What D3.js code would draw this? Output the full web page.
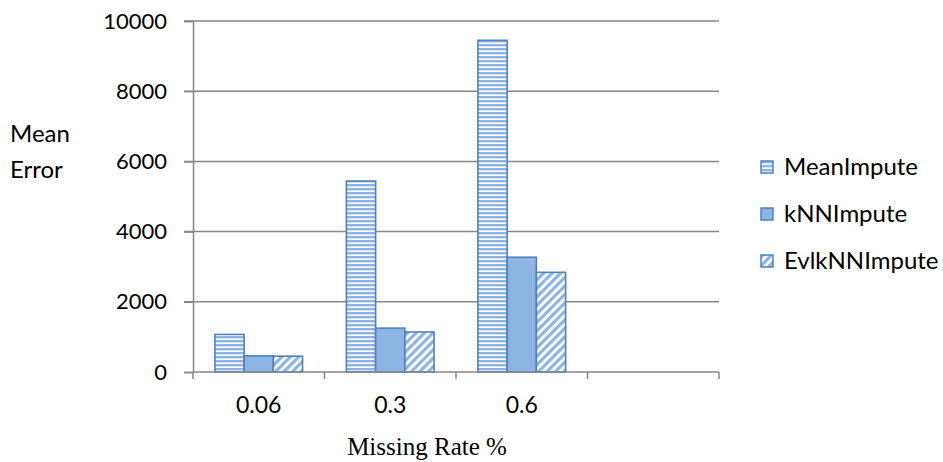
<!DOCTYPE html>
<html>
<head>
<meta charset="utf-8">
<script src="https://cdn.jsdelivr.net/npm/d3@7"></script>
<style>
  body { margin: 0; background: #fff; }
</style>
</head>
<body>
<div id="chart"></div>
<script>
var categories = ['0.06', '0.3', '0.6', ''];
var seriesNames = ['MeanImpute', 'kNNImpute', 'EvlkNNImpute'];
var meanImpute = [1070, 5440, 9450, null];
var knnImpute = [460, 1250, 3270, null];
var evlkImpute = [450, 1140, 2840, null];
var yTicks = [0, 2000, 4000, 6000, 8000, 10000];

var width = 943, height = 462;
var plotLeft = 193, plotRight = 719, plotTop = 21, plotBottom = 372;
var fontMain = 'Lato, "Open Sans", sans-serif';

var svg = d3.select('#chart').append('svg')
  .attr('width', width)
  .attr('height', height)
  .style('font-family', fontMain);

// patterns
var defs = svg.append('defs');
var hp = defs.append('pattern').attr('id', 'hstripe')
  .attr('patternUnits', 'userSpaceOnUse').attr('width', 8).attr('height', 4);
hp.append('rect').attr('width', 8).attr('height', 4).attr('fill', '#ffffff');
hp.append('rect').attr('width', 8).attr('height', 2.4).attr('fill', '#8db4e2');

var dp = defs.append('pattern').attr('id', 'dstripe')
  .attr('patternUnits', 'userSpaceOnUse').attr('width', 6).attr('height', 6)
  .attr('patternTransform', 'rotate(45)');
dp.append('rect').attr('width', 6).attr('height', 6).attr('fill', '#ffffff');
dp.append('rect').attr('width', 3.2).attr('height', 6).attr('fill', '#8db4e2');

var fills = ['url(#hstripe)', '#8db4e2', 'url(#dstripe)'];

var x = d3.scaleBand().domain(categories.map(function (c, i) { return i; }))
  .range([plotLeft, plotRight]).paddingInner(0).paddingOuter(0);
var x1 = d3.scaleBand().domain(d3.range(seriesNames.length))
  .range([0, x.bandwidth()]).paddingOuter(0.75).paddingInner(0);
var y = d3.scaleLinear().domain([0, 10000]).range([plotBottom, plotTop]);

// gridlines
svg.append('g').selectAll('line').data(yTicks.slice(1)).enter().append('line')
  .attr('x1', plotLeft - 9).attr('x2', plotRight)
  .attr('y1', function (d) { return y(d); }).attr('y2', function (d) { return y(d); })
  .attr('stroke', '#878787').attr('stroke-width', 1.5);

// bars
var rows = [meanImpute, knnImpute, evlkImpute];
rows.forEach(function (vals, s) {
  svg.append('g').selectAll('rect').data(vals).enter()
    .filter(function (d) { return d != null; })
    .append('rect')
    .attr('x', function (d, i) { return x(i) + x1(s); })
    .attr('y', function (d) { return y(d); })
    .attr('width', x1.bandwidth())
    .attr('height', function (d) { return plotBottom - y(d); })
    .attr('fill', fills[s])
    .attr('stroke', '#4f81bd')
    .attr('stroke-width', 1.6);
});

// y axis
var yAxis = svg.append('g').attr('transform', 'translate(' + plotLeft + ',0)')
  .call(d3.axisLeft(y).tickValues(yTicks).tickSize(9).tickPadding(17).tickFormat(d3.format('d')));
yAxis.select('.domain').attr('stroke', '#878787').attr('stroke-width', 1.5);
yAxis.selectAll('.tick line').attr('stroke', '#878787').attr('stroke-width', 1.5);
yAxis.selectAll('text').attr('font-size', 22).attr('fill', '#000')
  .style('font-family', fontMain);

// x axis
var xAxisLine = svg.append('g');
xAxisLine.append('line').attr('x1', plotLeft).attr('x2', plotRight)
  .attr('y1', plotBottom).attr('y2', plotBottom)
  .attr('stroke', '#878787').attr('stroke-width', 1.5);
xAxisLine.selectAll('line.tk').data(categories.map(function (c, i) { return i; }).concat([categories.length]))
  .enter().append('line').attr('class', 'tk')
  .attr('x1', function (d) { return d < categories.length ? x(d) : plotRight; })
  .attr('x2', function (d) { return d < categories.length ? x(d) : plotRight; })
  .attr('y1', plotBottom).attr('y2', plotBottom + 7)
  .attr('stroke', '#878787').attr('stroke-width', 1.5);
xAxisLine.selectAll('text').data(categories).enter().append('text')
  .attr('x', function (d, i) { return x(i) + x.bandwidth() / 2; })
  .attr('y', 413)
  .attr('text-anchor', 'middle')
  .attr('font-size', 23)
  .text(function (d) { return d; });

// axis titles
svg.append('text').attr('x', 10).attr('y', 142).attr('font-size', 24).text('Mean');
svg.append('text').attr('x', 10).attr('y', 178).attr('font-size', 24).text('Error');
svg.append('text').attr('x', 427).attr('y', 455).attr('text-anchor', 'middle')
  .style('font-family', '"Liberation Serif", "Times New Roman", serif')
  .attr('font-size', 25).text('Missing Rate %');

// legend
var legend = svg.append('g').selectAll('g').data(seriesNames).enter().append('g')
  .attr('transform', function (d, i) { return 'translate(761,' + (161 + i * 47) + ')'; });
legend.append('rect').attr('width', 12).attr('height', 12)
  .attr('fill', function (d, i) { return fills[i]; })
  .attr('stroke', '#4f81bd').attr('stroke-width', 1.5);
legend.append('text').attr('x', 23).attr('y', 14).attr('font-size', 24)
  .text(function (d) { return d; });
</script>
</body>
</html>
